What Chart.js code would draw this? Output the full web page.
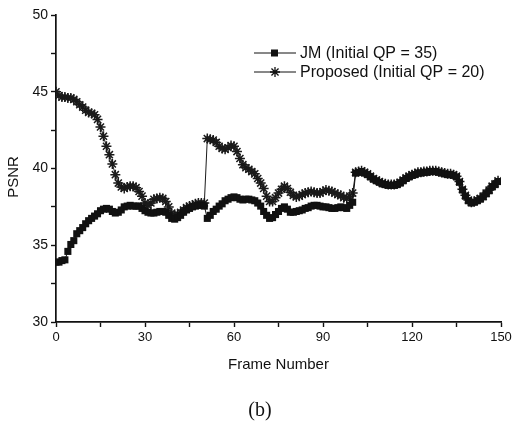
<!DOCTYPE html>
<html>
<head>
<meta charset="utf-8">
<script src="https://cdn.jsdelivr.net/npm/chart.js@4.4.1/dist/chart.umd.min.js"></script>
<style>
  html, body { margin: 0; padding: 0; background: #fff; }
  #wrap { position: relative; width: 516px; height: 428px; }
  #caption {
    position: absolute; left: 0; width: 520px; top: 398px;
    text-align: center; font: 20px "Liberation Serif", "DejaVu Serif", serif; color: #111;
  }
</style>
</head>
<body>
<div id="wrap">
  <canvas id="chart" width="516" height="428"></canvas>
  <div id="caption">(b)</div>
</div>
<script>
/* ================= DATA ================= */
const FRAMES = Array.from({ length: 150 }, (_, i) => i);

const JM_PSNR = [
  33.9, 33.9, 34.0, 34.05, 34.6, 35.05, 35.3, 35.75, 35.95, 36.15,
  36.4, 36.6, 36.75, 36.9, 37.05, 37.25, 37.35, 37.4, 37.35, 37.2,
  37.1, 37.15, 37.3, 37.5, 37.55, 37.6, 37.55, 37.55, 37.55, 37.4,
  37.25, 37.15, 37.1, 37.1, 37.15, 37.2, 37.2, 37.15, 36.95, 36.75,
  36.7, 36.8, 36.95, 37.15, 37.3, 37.4, 37.5, 37.55, 37.6, 37.6,
  37.55, 36.75, 36.95, 37.2, 37.35, 37.55, 37.7, 37.9, 38.0, 38.1,
  38.15, 38.1, 38.0, 37.95, 38.0, 38.0, 37.95, 37.9, 37.75, 37.55,
  37.2, 36.95, 36.75, 36.8, 37.0, 37.2, 37.4, 37.5, 37.35, 37.15,
  37.15, 37.2, 37.25, 37.3, 37.4, 37.45, 37.55, 37.6, 37.6, 37.55,
  37.5, 37.5, 37.45, 37.4, 37.4, 37.45, 37.5, 37.45, 37.4, 37.6,
  37.8, 39.7, 39.75, 39.8, 39.7, 39.6, 39.45, 39.3, 39.2, 39.1,
  39.0, 38.95, 38.9, 38.9, 38.9, 38.95, 39.05, 39.2, 39.35, 39.45,
  39.55, 39.6, 39.7, 39.7, 39.75, 39.75, 39.8, 39.8, 39.8, 39.75,
  39.7, 39.65, 39.6, 39.6, 39.55, 39.45, 39.1, 38.6, 38.2, 37.9,
  37.75, 37.8, 37.9, 38.0, 38.15, 38.35, 38.55, 38.8, 38.95, 39.15
];

const PROPOSED_PSNR = [
  45.0, 44.75, 44.65, 44.65, 44.6, 44.6, 44.5, 44.35, 44.15, 44.0,
  43.8, 43.65, 43.6, 43.5, 43.2, 42.7, 42.1, 41.45, 40.9, 40.3,
  39.6, 39.05, 38.8, 38.7, 38.8, 38.85, 38.85, 38.75, 38.5, 38.2,
  37.75, 37.6, 37.75, 38.0, 38.05, 38.1, 38.05, 37.85, 37.5, 37.1,
  36.95, 37.0, 37.15, 37.3, 37.45, 37.55, 37.6, 37.7, 37.75, 37.75,
  37.75, 41.95, 41.9, 41.85, 41.7, 41.45, 41.3, 41.25, 41.35, 41.5,
  41.45, 41.1, 40.65, 40.25, 40.05, 39.95, 39.8, 39.65, 39.35, 39.05,
  38.7, 38.2, 37.85, 37.85, 38.1, 38.4, 38.65, 38.85, 38.7, 38.45,
  38.25, 38.15, 38.2, 38.3, 38.4, 38.45, 38.5, 38.45, 38.4, 38.4,
  38.5, 38.6, 38.55, 38.5, 38.4, 38.3, 38.25, 38.1, 38.05, 38.2,
  38.4, 39.75, 39.8, 39.85, 39.75, 39.65, 39.5, 39.35, 39.25, 39.15,
  39.05, 39.0, 38.95, 38.95, 38.95, 39.0, 39.1, 39.25, 39.4, 39.5,
  39.6, 39.65, 39.75, 39.75, 39.8, 39.8, 39.85, 39.85, 39.85, 39.8,
  39.75, 39.7, 39.65, 39.65, 39.6, 39.5, 39.15, 38.65, 38.25, 37.95,
  37.8, 37.85, 37.95, 38.05, 38.2, 38.4, 38.6, 38.85, 39.0, 39.2
];

const SERIES_LABELS = ['JM (Initial QP = 35)', 'Proposed (Initial QP = 20)'];
const X_TICKS = [0, 30, 60, 90, 120, 150];
const Y_TICKS = [30, 35, 40, 45, 50];

/* ================= CONFIG ================= */
const FONT = '"Liberation Sans", Arial, sans-serif';
const INK = '#111';

const toPoints = values => FRAMES.map((f, i) => ({ x: f, y: values[i] }));

// legend drawn inside the plot, like the original figure
const insideLegend = {
  id: 'insideLegend',
  afterDatasetsDraw(chart) {
    const ctx = chart.ctx;
    ctx.save();
    chart.data.datasets.forEach((ds, i) => {
      const y = 53 + i * 19;
      ctx.strokeStyle = INK;
      ctx.lineWidth = 1;
      ctx.beginPath();
      ctx.moveTo(254, y);
      ctx.lineTo(296, y);
      ctx.stroke();
      if (ds.pointStyle === 'rect') {
        ctx.fillStyle = INK;
        ctx.fillRect(271, y - 3.5, 7, 7);
      } else {
        ctx.lineWidth = 1.3;
        ctx.beginPath();
        for (let a = 0; a < 4; a++) {
          const ang = a * Math.PI / 4;
          ctx.moveTo(275 - Math.cos(ang) * 5, y - Math.sin(ang) * 5);
          ctx.lineTo(275 + Math.cos(ang) * 5, y + Math.sin(ang) * 5);
        }
        ctx.stroke();
      }
      ctx.fillStyle = INK;
      ctx.font = '16px ' + FONT;
      ctx.textBaseline = 'middle';
      ctx.fillText(ds.label, 300, y + 1);
    });
    ctx.restore();
  }
};

// y title sits a little below the middle in the original
const yTitle = {
  id: 'yTitle',
  afterDraw(chart) {
    const ctx = chart.ctx;
    ctx.save();
    ctx.translate(14, 177);
    ctx.rotate(-Math.PI / 2);
    ctx.fillStyle = INK;
    ctx.font = '15px ' + FONT;
    ctx.textAlign = 'center';
    ctx.textBaseline = 'middle';
    ctx.fillText('PSNR', 0, 0);
    ctx.restore();
  }
};

function axisGrid() {
  return {
    drawOnChartArea: false,
    drawTicks: true,
    tickLength: 5,
    tickColor: INK,
    tickWidth: 1.4
  };
}

new Chart(document.getElementById('chart'), {
  type: 'line',
  data: {
    datasets: [
      {
        label: SERIES_LABELS[0],
        data: toPoints(JM_PSNR),
        borderColor: INK,
        backgroundColor: INK,
        borderWidth: 1,
        pointStyle: 'rect',
        pointRadius: 5,
        pointBorderWidth: 0,
        tension: 0
      },
      {
        label: SERIES_LABELS[1],
        data: toPoints(PROPOSED_PSNR),
        borderColor: '#1a1a1a',
        backgroundColor: '#1a1a1a',
        borderWidth: 1,
        pointStyle: 'star',
        pointRadius: 5,
        pointBorderWidth: 1.5,
        tension: 0
      }
    ]
  },
  options: {
    responsive: false,
    animation: false,
    layout: { padding: { top: 15, right: 15, bottom: 50, left: 0 } },
    plugins: { legend: { display: false }, tooltip: { enabled: false } },
    scales: {
      x: {
        type: 'linear',
        min: 0,
        max: 150,
        afterFit: scale => { scale.height = 56; },
        border: { display: true, color: INK, width: 1.7 },
        grid: axisGrid(),
        ticks: {
          stepSize: 15,
          autoSkip: false,
          maxRotation: 0,
          padding: 3,
          color: INK,
          font: { family: FONT, size: 13 },
          callback: v => (X_TICKS.includes(v) ? String(v) : '')
        },
        title: {
          display: true,
          text: 'Frame Number',
          color: INK,
          font: { family: FONT, size: 15 },
          padding: { top: 4, bottom: 4 }
        }
      },
      y: {
        min: 30,
        max: 50,
        afterFit: scale => { scale.width = 56; },
        border: { display: true, color: INK, width: 1.7 },
        grid: axisGrid(),
        ticks: {
          stepSize: 2.5,
          autoSkip: false,
          padding: 3,
          color: INK,
          font: { family: FONT, size: 14 },
          callback: v => (Y_TICKS.includes(v) ? String(v) : '')
        },
        title: { display: false }
      }
    }
  },
  plugins: [insideLegend, yTitle]
});
</script>
</body>
</html>
